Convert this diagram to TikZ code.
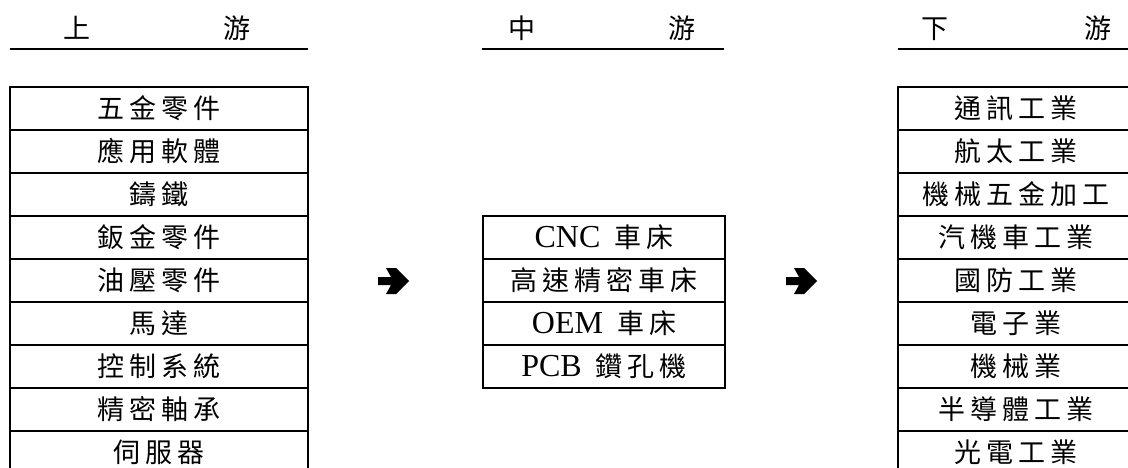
\documentclass[tikz,border=0pt]{standalone}
\usepackage{fontspec}
\setmainfont{Liberation Serif}
\newfontfamily\cjkf{Noto Sans CJK TC}
\newcommand\g{\hspace{5pt}}
\newcommand\latn[1]{{\rmfamily\fontsize{32}{36}\selectfont #1}}
\tikzset{
  cjktext/.style={inner sep=0pt, text height=24pt, text depth=3.6pt, font=\cjkf\fontsize{27}{30}\selectfont},
  cell/.style={cjktext, draw=black, line width=1.8pt, minimum height=43pt},
  lcell/.style={cell, minimum width=298pt},
  mcell/.style={cell, minimum width=242pt},
  rcell/.style={cell, minimum width=236pt},
  headline/.style={line width=2pt},
  rarrow/.pic={\fill[black] (-15.5,-4) -- (-2.5,-4) -- (-7.5,-13) -- (2.5,-13) -- (15.5,0) -- (2.5,13) -- (-7.5,13) -- (-2.5,4) -- (-15.5,4) -- cycle;}
}
\begin{document}
\begin{tikzpicture}[x=1pt,y=-1pt]
\useasboundingbox (0,0) rectangle (1128,468);
\clip (0,0) rectangle (1128,468);
% headers
\node[cjktext] (h1a) at (77,28) {上};
\node[cjktext] (h1b) at (237,28) {游};
\node[cjktext] (h2a) at (522,28) {中};
\node[cjktext] (h2b) at (682,28) {游};
\node[cjktext] (h3a) at (935,28) {下};
\node[cjktext] (h3b) at (1098,28) {游};
\draw[headline] (10,49) -- (308,49);
\draw[headline] (482,49) -- (724,49);
\draw[headline] (898,49) -- (1128,49);
% upstream
\node[lcell] (u1) at (159,108.5) {五\g{}金\g{}零\g{}件};
\node[lcell] (u2) at (159,151.5) {應\g{}用\g{}軟\g{}體};
\node[lcell] (u3) at (159,194.5) {鑄\g{}鐵};
\node[lcell] (u4) at (159,237.5) {鈑\g{}金\g{}零\g{}件};
\node[lcell] (u5) at (159,280.5) {油\g{}壓\g{}零\g{}件};
\node[lcell] (u6) at (159,323.5) {馬\g{}達};
\node[lcell] (u7) at (159,366.5) {控\g{}制\g{}系\g{}統};
\node[lcell] (u8) at (159,409.5) {精\g{}密\g{}軸\g{}承};
\node[lcell] (u9) at (159,452.5) {伺\g{}服\g{}器};
% midstream
\node[mcell] (m1) at (604,237.5) {\latn{CNC}\hspace{14pt}車\g{}床};
\node[mcell] (m2) at (604,280.5) {高\g{}速\g{}精\g{}密\g{}車\g{}床};
\node[mcell] (m3) at (604,323.5) {\latn{OEM}\hspace{14pt}車\g{}床};
\node[mcell] (m4) at (604,366.5) {\latn{PCB}\hspace{14pt}鑽\g{}孔\g{}機};
% downstream
\node[rcell] (d1) at (1016,108.5) {通\g{}訊\g{}工\g{}業};
\node[rcell] (d2) at (1016,151.5) {航\g{}太\g{}工\g{}業};
\node[rcell] (d3) at (1016,194.5) {機\g{}械\g{}五\g{}金\g{}加\g{}工};
\node[rcell] (d4) at (1016,237.5) {汽\g{}機\g{}車\g{}工\g{}業};
\node[rcell] (d5) at (1016,280.5) {國\g{}防\g{}工\g{}業};
\node[rcell] (d6) at (1016,323.5) {電\g{}子\g{}業};
\node[rcell] (d7) at (1016,366.5) {機\g{}械\g{}業};
\node[rcell] (d8) at (1016,409.5) {半\g{}導\g{}體\g{}工\g{}業};
\node[rcell] (d9) at (1016,452.5) {光\g{}電\g{}工\g{}業};
% arrows
\pic at (393.5,281) {rarrow};
\pic at (801.5,281) {rarrow};
\end{tikzpicture}
\end{document}
